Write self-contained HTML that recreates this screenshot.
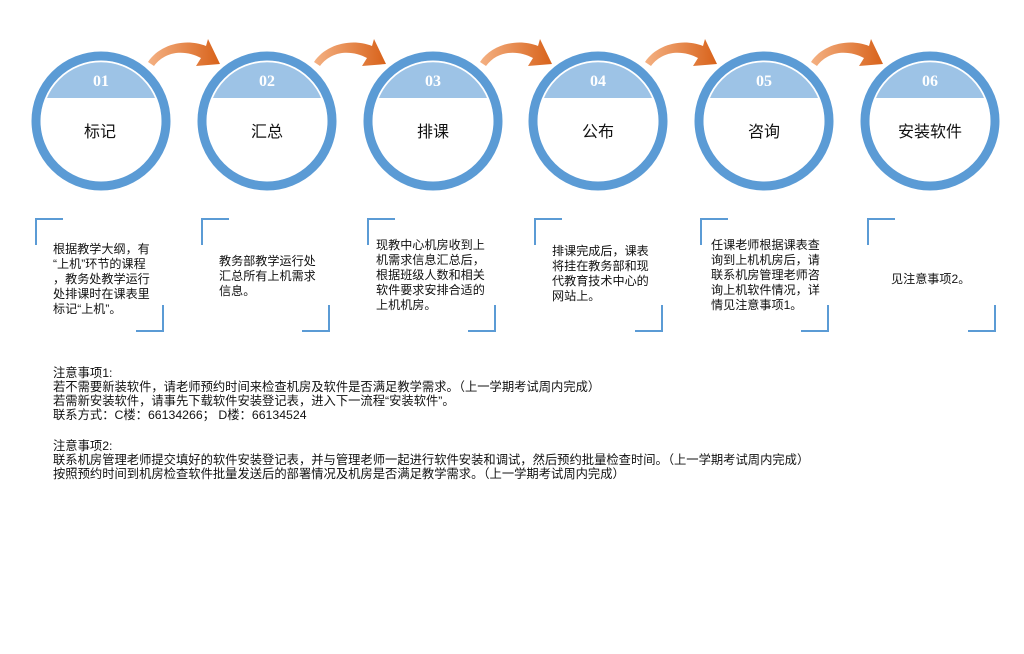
<!DOCTYPE html>
<html><head><meta charset="utf-8"><style>
html,body{margin:0;padding:0;background:#fff;}
svg{display:block}
text{font-family:"Liberation Sans","Noto Sans CJK SC",sans-serif;fill:#111;}
</style></head><body>
<svg width="1024" height="654" viewBox="0 0 1024 654" xmlns="http://www.w3.org/2000/svg">
<defs>
<linearGradient id="og" x1="0" y1="0" x2="1" y2="0">
<stop offset="0" stop-color="#f4b183"/><stop offset="1" stop-color="#d8621a"/>
</linearGradient>
<g id="arr">
<path d="M0,26 C12,8 38,2 58,10 L60,3 L72,28 L48,30 L53,22 C38,14 18,14 6,30 Z" fill="url(#og)"/>
</g>
<g id="circ">
<circle cx="0" cy="0" r="65" fill="#fff" stroke="#5b9bd5" stroke-width="9"/>
<path d="M-55,-23 A60,60 0 0 1 55,-23 Z" fill="#9dc3e6"/>
<circle cx="0" cy="0" r="59.5" fill="none" stroke="#fff" stroke-width="1.5"/>
</g>
<g id="br" fill="none" stroke="#5b9bd5" stroke-width="2">
<path d="M0,26 V0 H27"/><path d="M127,86 V112 H100"/>
</g>
</defs>
<use href="#arr" x="148" y="36"/>
<use href="#arr" x="314" y="36"/>
<use href="#arr" x="480" y="36"/>
<use href="#arr" x="645" y="36"/>
<use href="#arr" x="811" y="36"/>
<use href="#circ" x="101" y="121"/><use href="#circ" x="267" y="121"/><use href="#circ" x="433" y="121"/>
<use href="#circ" x="598" y="121"/><use href="#circ" x="764" y="121"/><use href="#circ" x="930" y="121"/>
<g font-size="16" text-anchor="middle">
<text x="101" y="86" style="fill:#fff;font-family:'Liberation Serif',serif;font-weight:bold">01</text>
<text x="267" y="86" style="fill:#fff;font-family:'Liberation Serif',serif;font-weight:bold">02</text>
<text x="433" y="86" style="fill:#fff;font-family:'Liberation Serif',serif;font-weight:bold">03</text>
<text x="598" y="86" style="fill:#fff;font-family:'Liberation Serif',serif;font-weight:bold">04</text>
<text x="764" y="86" style="fill:#fff;font-family:'Liberation Serif',serif;font-weight:bold">05</text>
<text x="930" y="86" style="fill:#fff;font-family:'Liberation Serif',serif;font-weight:bold">06</text>
</g>
<g font-size="16" text-anchor="middle">
<text x="100" y="137">标记</text><text x="267" y="137">汇总</text><text x="433" y="137">排课</text>
<text x="598" y="137">公布</text><text x="764" y="137">咨询</text><text x="930" y="137">安装软件</text>
</g>
<use href="#br" x="36" y="219"/><use href="#br" x="202" y="219"/><use href="#br" x="368" y="219"/>
<use href="#br" x="535" y="219"/><use href="#br" x="701" y="219"/><use href="#br" x="868" y="219"/>
<g font-size="12.1">
<text x="53" y="253">根据教学大纲，有</text><text x="53" y="268">“上机”环节的课程</text>
<text x="53" y="283">，教务处教学运行</text><text x="53" y="298">处排课时在课表里</text><text x="53" y="313">标记“上机”。</text>
<text x="219" y="265">教务部教学运行处</text><text x="219" y="280">汇总所有上机需求</text><text x="219" y="295">信息。</text>
<text x="376" y="249">现教中心机房收到上</text><text x="376" y="264">机需求信息汇总后，</text>
<text x="376" y="279">根据班级人数和相关</text><text x="376" y="294">软件要求安排合适的</text><text x="376" y="309">上机机房。</text>
<text x="552" y="255">排课完成后，课表</text><text x="552" y="270">将挂在教务部和现</text>
<text x="552" y="285">代教育技术中心的</text><text x="552" y="300">网站上。</text>
<text x="711" y="249">任课老师根据课表查</text><text x="711" y="264">询到上机机房后，请</text>
<text x="711" y="279">联系机房管理老师咨</text><text x="711" y="294">询上机软件情况，详</text><text x="711" y="309">情见注意事项1。</text>
<text x="891" y="283">见注意事项2。</text>
</g>
<g font-size="12.3">
<text x="53" y="377">注意事项1:</text>
<text x="53" y="391">若不需要新装软件，请老师预约时间来检查机房及软件是否满足教学需求。（上一学期考试周内完成）</text>
<text x="53" y="405">若需新安装软件，请事先下载软件安装登记表，进入下一流程“安装软件”。</text>
<text x="53" y="419">联系方式：C楼：66134266；  D楼：66134524</text>
<text x="53" y="450">注意事项2:</text>
<text x="53" y="464">联系机房管理老师提交填好的软件安装登记表，并与管理老师一起进行软件安装和调试，然后预约批量检查时间。（上一学期考试周内完成）</text>
<text x="53" y="478">按照预约时间到机房检查软件批量发送后的部署情况及机房是否满足教学需求。（上一学期考试周内完成）</text>
</g>
</svg>
</body></html>
